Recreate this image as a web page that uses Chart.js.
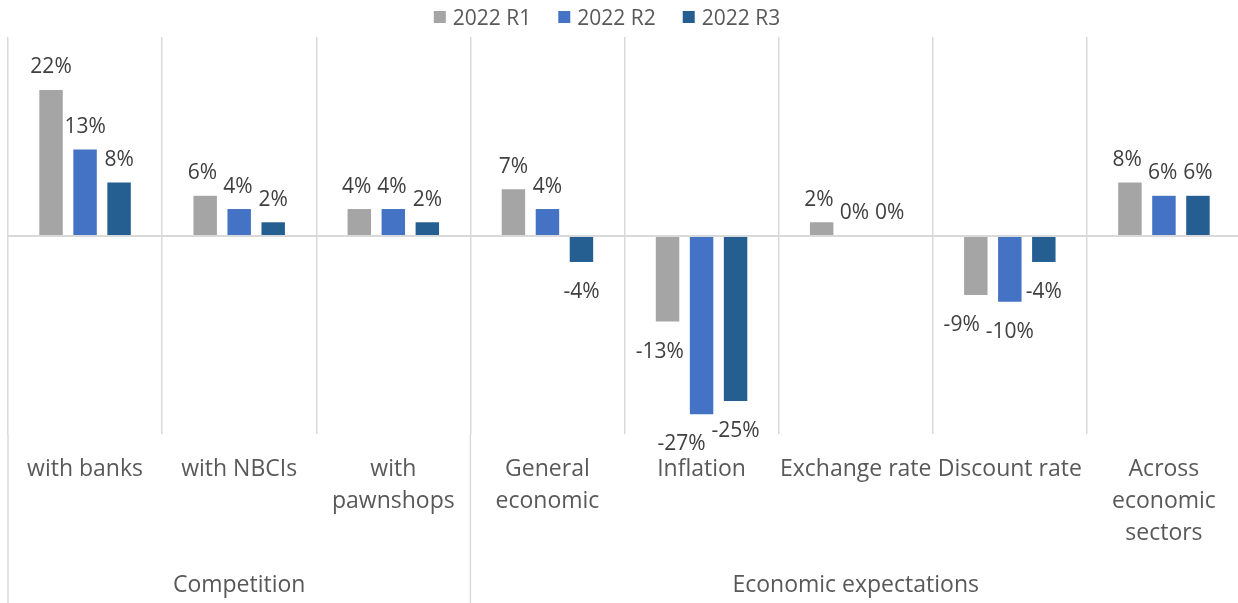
<!DOCTYPE html>
<html>
<head>
<meta charset="utf-8">
<title>Competition and economic expectations</title>
<script src="https://cdn.jsdelivr.net/npm/chart.js@4.4.1/dist/chart.umd.min.js"></script>
<style>
  html, body { margin: 0; padding: 0; background: #ffffff; overflow: hidden; }
  #wrap { position: relative; width: 1242px; height: 603px; }
</style>
</head>
<body>
<div id="wrap"><canvas id="chart"></canvas></div>
<script>
// Category labels (multi-line where the text wraps)
const categories = [
  ["with banks"],
  ["with NBCIs"],
  ["with", "pawnshops"],
  ["General", "economic"],
  ["Inflation"],
  ["Exchange rate"],
  ["Discount rate"],
  ["Across", "economic", "sectors"]
];
// Outer grouping of the categories
const groups = ["Competition", "Economic expectations"];
const groupSizes = [3, 5];

// Series (balance of answers, %)
const seriesNames = ["2022 R1", "2022 R2", "2022 R3"];
const r1 = [22, 6, 4, 7, -13, 2, -9, 8];
const r2 = [13, 4, 4, 4, -27, 0, -10, 6];
const r3 = [8, 2, 2, -4, -25, 0, -4, 6];
const seriesColors = ["#A5A5A5", "#4472C4", "#255E91"];

const fontFamily = "'Open Sans', sans-serif";
const textGrey = "#595959";
const lineGrey = "#D9D9D9";

// Legend drawn across the top band
const legendPlugin = {
  id: "topLegend",
  afterDraw(chart) {
    const ctx = chart.ctx;
    ctx.save();
    ctx.font = `21px ${fontFamily}`;
    ctx.textBaseline = "alphabetic";
    ctx.textAlign = "left";
    const box = 12, boxGap = 7, itemGap = 27;
    const items = chart.data.datasets.map(ds => ({
      label: ds.label, color: ds.backgroundColor, w: ctx.measureText(ds.label).width
    }));
    const total = items.reduce((s, it) => s + box + boxGap + it.w, 0) + itemGap * (items.length - 1);
    let x = 607 - total / 2;
    items.forEach(it => {
      ctx.fillStyle = it.color;
      ctx.fillRect(x, 11, box, box);
      ctx.fillStyle = textGrey;
      ctx.fillText(it.label, x + box + boxGap, 25);
      x += box + boxGap + it.w + itemGap;
    });
    ctx.restore();
  }
};

// Zero line, group separators and group names
const framePlugin = {
  id: "frame",
  afterDatasetsDraw(chart) {
    const { ctx, chartArea: a, scales: { x, y } } = chart;
    const n = chart.data.labels.length;
    const w = (a.right - a.left) / n;
    ctx.save();
    ctx.strokeStyle = lineGrey;
    ctx.lineWidth = 2;
    const y0 = Math.round(y.getPixelForValue(0));
    ctx.beginPath();
    ctx.moveTo(a.left, y0);
    ctx.lineTo(a.right, y0);
    ctx.stroke();

    const bounds = [0];
    groupSizes.forEach(s => bounds.push(bounds[bounds.length - 1] + s));
    ctx.lineWidth = 1.5;
    bounds.forEach(b => {
      const bx = x.getPixelForValue(0) - w / 2 + b * w;
      ctx.beginPath();
      ctx.moveTo(bx, a.bottom);
      ctx.lineTo(bx, chart.height);
      ctx.stroke();
    });

    ctx.font = `23px ${fontFamily}`;
    ctx.fillStyle = textGrey;
    ctx.textAlign = "center";
    ctx.textBaseline = "alphabetic";
    groups.forEach((g, k) => {
      const cx = x.getPixelForValue(0) - w / 2 + (bounds[k] + bounds[k + 1]) / 2 * w;
      ctx.fillText(g, cx, 592);
    });
    ctx.restore();
  }
};

// Value labels: above positive bars, below negative ones; a label that would
// run into a neighbouring label or bar on its right is nudged to the left.
const valueLabelPlugin = {
  id: "valueLabels",
  afterDatasetsDraw(chart) {
    const ctx = chart.ctx;
    const nd = chart.data.datasets.length;
    ctx.save();
    ctx.font = `21px ${fontFamily}`;
    ctx.fillStyle = "#404040";
    ctx.textAlign = "left";
    ctx.textBaseline = "alphabetic";
    chart.data.labels.forEach((_, i) => {
      const bars = [];
      for (let d = 0; d < nd; d++) {
        const el = chart.getDatasetMeta(d).data[i];
        const p = el.getProps(["x", "y", "base", "width"], true);
        bars.push({
          d, x: p.x, w: p.width,
          top: Math.min(p.y, p.base), bottom: Math.max(p.y, p.base),
          v: chart.data.datasets[d].data[i]
        });
      }
      const placed = [];
      for (let d = nd - 1; d >= 0; d--) {
        const b = bars[d];
        const text = b.v + "%";
        const tw = ctx.measureText(text).width;
        const baseline = b.v >= 0 ? b.top - 16.5 : b.bottom + 36;
        const bt = baseline - 16, bb = baseline + 1;
        let left = b.x - tw / 2;
        const obstacles = placed.concat(
          bars.filter(o => o.d > d).map(o => ({ l: o.x - o.w / 2 - 6, r: o.x + o.w / 2, t: o.top, b: o.bottom }))
        );
        let moved = true;
        while (moved) {
          moved = false;
          for (const o of obstacles) {
            if (left + 1 < o.r && left + tw - 1 > o.l && bt < o.b && bb > o.t) {
              left = o.l - tw;
              moved = true;
            }
          }
        }
        placed.push({ l: left - 6, r: left + tw, t: bt, b: bb });
        ctx.fillText(text, left, baseline);
      }
    });
    ctx.restore();
  }
};

const seriesValues = [r1, r2, r3];

new Chart(document.getElementById("chart"), {
  type: "bar",
  data: {
    labels: categories,
    datasets: seriesNames.map((name, k) => ({
      label: name,
      data: seriesValues[k],
      backgroundColor: seriesColors[k],
      borderWidth: 0,
      categoryPercentage: 0.662,
      barPercentage: 0.69
    }))
  },
  options: {
    responsive: true,
    maintainAspectRatio: false,
    animation: false,
    layout: { padding: { top: 37, left: 8, right: 1, bottom: 0 } },
    plugins: {
      legend: { display: false },
      tooltip: { enabled: false }
    },
    scales: {
      x: {
        grid: { color: lineGrey, lineWidth: 1.5, drawTicks: false, offset: true },
        border: { display: false },
        ticks: {
          color: textGrey,
          font: { family: fontFamily, size: 23, lineHeight: 32 / 23 },
          padding: 19,
          maxRotation: 0,
          autoSkip: false
        },
        afterFit(scale) { scale.height = 169; }
      },
      y: {
        display: false,
        min: -30,
        max: 30
      }
    }
  },
  plugins: [framePlugin, valueLabelPlugin, legendPlugin]
});
</script>
</body>
</html>
